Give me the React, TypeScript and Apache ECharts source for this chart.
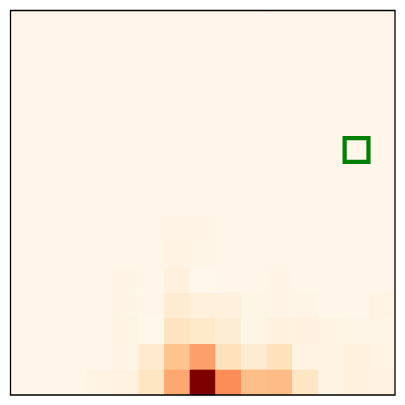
import React, { useEffect, useRef } from "react";
import * as echarts from "echarts";

const xCategories = ["0","1","2","3","4","5","6","7","8","9","10","11","12","13","14"];
const yCategories = ["0","1","2","3","4","5","6","7","8","9","10","11","12","13","14"];

// rows listed from bottom (y = 0) to top (y = 14), values normalized 0..1
const row0 = [0.015, 0.015, 0.015, 0.03, 0.04, 0.14, 0.43, 1.0, 0.5, 0.36, 0.37, 0.14, 0.03, 0.05, 0.04];
const row1 = [0.015, 0.015, 0.015, 0.015, 0.025, 0.1, 0.33, 0.45, 0.16, 0.09, 0.16, 0.03, 0.03, 0.05, 0.03];
const row2 = [0.015, 0.015, 0.015, 0.015, 0.03, 0.0, 0.15, 0.12, 0.08, 0.02, 0.05, 0.05, 0.03, 0.02, 0.02];
const row3 = [0.015, 0.015, 0.015, 0.015, 0.025, 0.01, 0.09, 0.06, 0.055, 0.02, 0.025, 0.02, 0.015, 0.015, 0.03];
const row4 = [0.015, 0.015, 0.015, 0.015, 0.025, 0.015, 0.05, 0.0, 0.01, 0.015, 0.025, 0.01, 0.015, 0.015, 0.015];
const row5 = [0.015, 0.015, 0.015, 0.015, 0.015, 0.015, 0.03, 0.02, 0.015, 0.015, 0.015, 0.015, 0.015, 0.015, 0.015];
const row6 = [0.015, 0.015, 0.015, 0.015, 0.015, 0.015, 0.025, 0.025, 0.015, 0.015, 0.015, 0.015, 0.015, 0.015, 0.015];
const row7 = [0.015, 0.015, 0.015, 0.015, 0.015, 0.015, 0.015, 0.015, 0.015, 0.015, 0.015, 0.015, 0.015, 0.015, 0.015];
const row8 = [0.015, 0.015, 0.015, 0.015, 0.015, 0.015, 0.015, 0.015, 0.015, 0.015, 0.015, 0.015, 0.015, 0.015, 0.015];
const row9 = [0.015, 0.015, 0.015, 0.015, 0.015, 0.015, 0.015, 0.015, 0.015, 0.015, 0.015, 0.015, 0.015, 0.015, 0.015];
const row10 = [0.015, 0.015, 0.015, 0.015, 0.015, 0.015, 0.015, 0.015, 0.015, 0.015, 0.015, 0.015, 0.015, 0.015, 0.015];
const row11 = [0.015, 0.015, 0.015, 0.015, 0.015, 0.015, 0.015, 0.015, 0.015, 0.015, 0.015, 0.015, 0.015, 0.015, 0.015];
const row12 = [0.015, 0.015, 0.015, 0.015, 0.015, 0.015, 0.015, 0.015, 0.015, 0.015, 0.015, 0.015, 0.015, 0.015, 0.015];
const row13 = [0.015, 0.015, 0.015, 0.015, 0.015, 0.015, 0.015, 0.015, 0.015, 0.015, 0.015, 0.015, 0.015, 0.015, 0.015];
const row14 = [0.015, 0.015, 0.015, 0.015, 0.015, 0.015, 0.015, 0.015, 0.015, 0.015, 0.015, 0.015, 0.015, 0.015, 0.015];

const rows = [row0, row1, row2, row3, row4, row5, row6, row7, row8, row9, row10, row11, row12, row13, row14];

// highlighted cell [x, y]
const marker = [[13, 9]];

const orRd = ["#fff7ec", "#fee8c8", "#fdd49e", "#fdbb84", "#fc8d59", "#ef6548", "#d7301f", "#b30000", "#7f0000"];

export default function App() {
  const ref = useRef<HTMLDivElement>(null);
  useEffect(() => {
    if (!ref.current) return;
    const chart = echarts.init(ref.current, null, { renderer: "svg" });
    const data: number[][] = [];
    rows.forEach((r, y) => r.forEach((v, x) => data.push([x, y, v])));
    const L = 10.5, T = 10.5, W = 384.5, H = 384.5;
    chart.setOption({
      animation: false,
      grid: { left: L, top: T, width: W, height: H, containLabel: false },
      xAxis: {
        type: "category",
        data: xCategories,
        axisLine: { show: false },
        axisTick: { show: false },
        axisLabel: { show: false },
        splitLine: { show: false },
      },
      yAxis: {
        type: "category",
        data: yCategories,
        axisLine: { show: false },
        axisTick: { show: false },
        axisLabel: { show: false },
        splitLine: { show: false },
      },
      visualMap: {
        show: false,
        min: 0,
        max: 1,
        dimension: 2,
        seriesIndex: 0,
        inRange: { color: orRd },
      },
      series: [
        {
          type: "heatmap",
          data,
          itemStyle: { borderWidth: 0 },
          emphasis: { disabled: true },
        },
        {
          type: "custom",
          data: marker,
          z: 10,
          renderItem: (params: any, api: any) => {
            const c = api.coord([api.value(0), api.value(1)]);
            const s = api.size([1, 1]);
            const w = s[0] - 1.8;
            const h = s[1] - 1.8;
            return {
              type: "rect",
              shape: { x: c[0] - w / 2, y: c[1] - h / 2 - 1.5, width: w, height: h },
              style: { fill: "none", stroke: "#008000", lineWidth: 4.2 },
            };
          },
        },
      ],
      graphic: [
        {
          type: "rect",
          z: 100,
          shape: { x: L, y: T, width: W, height: H },
          style: { fill: "none", stroke: "#000", lineWidth: 1.3 },
        },
      ],
    });
    return () => chart.dispose();
  }, []);
  return (
    <div
      ref={ref}
      style={{ position: "absolute", left: 0, top: 0, width: 405, height: 405, background: "#fff" }}
    />
  );
}
